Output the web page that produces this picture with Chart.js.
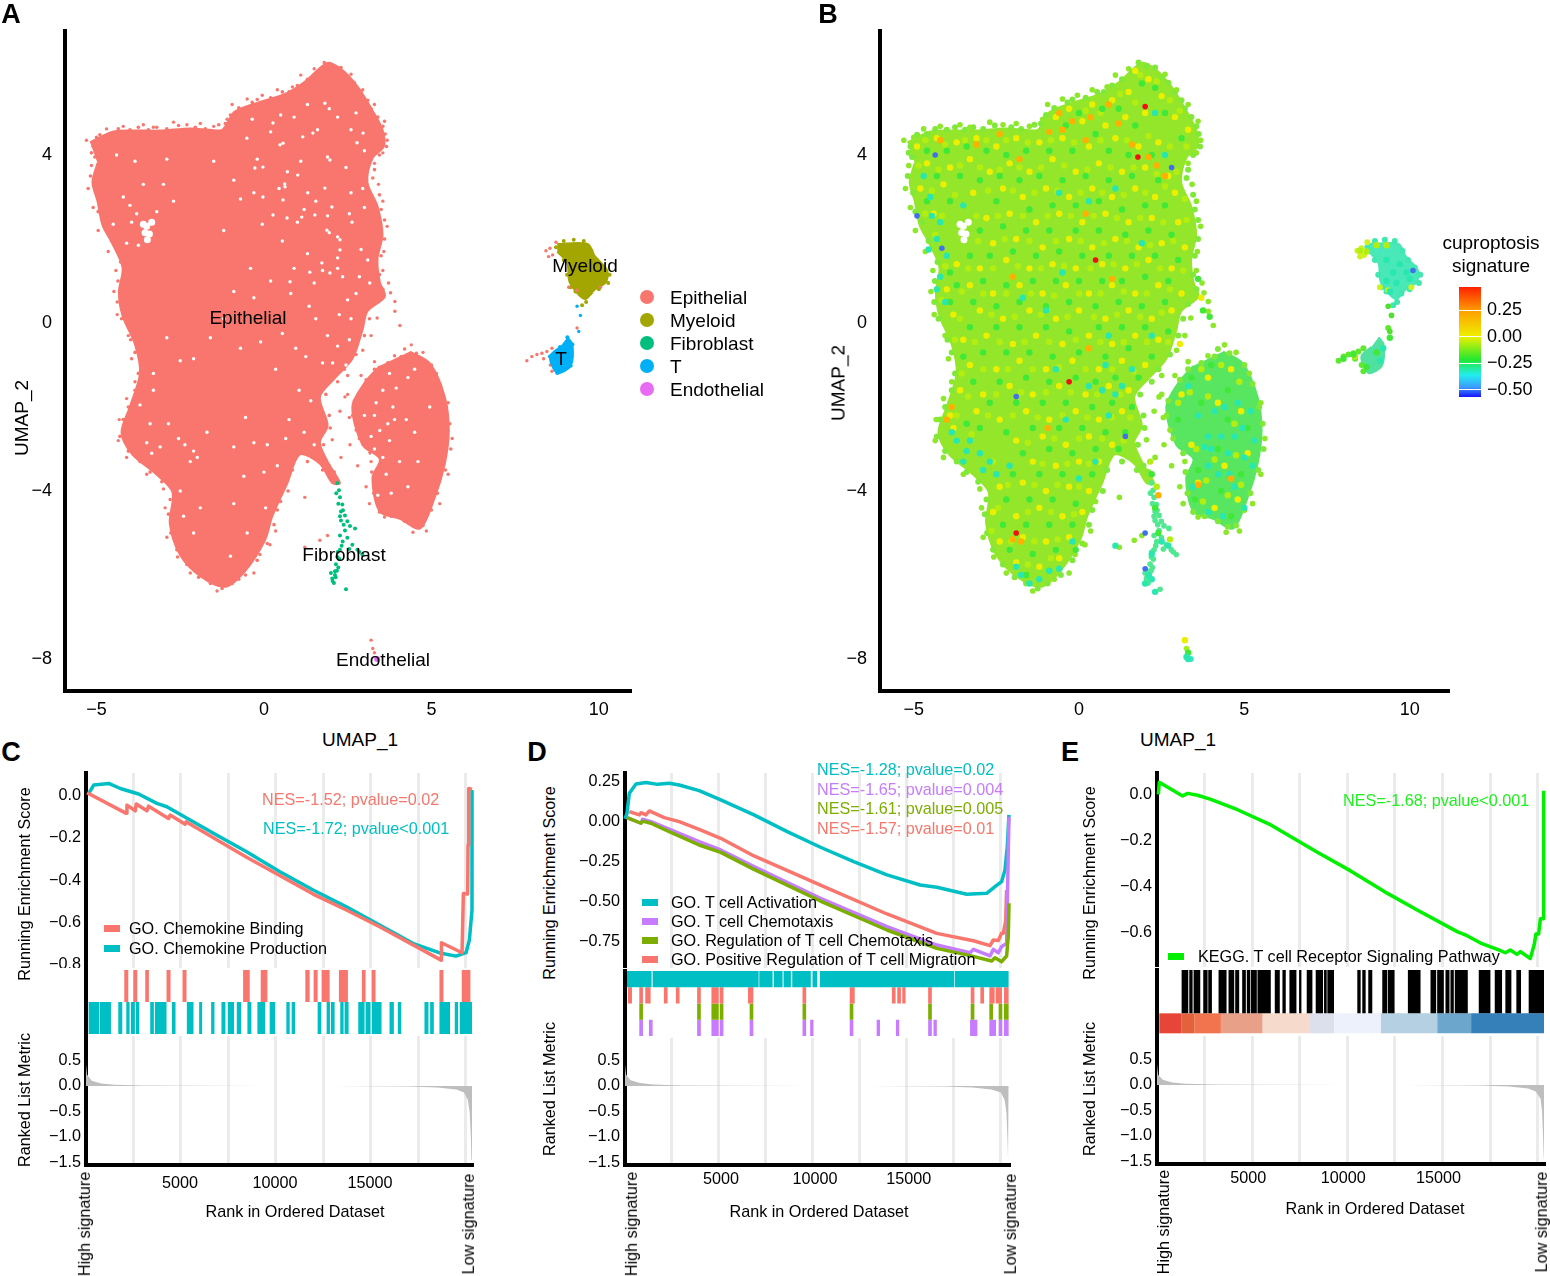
<!DOCTYPE html>
<html>
<head>
<meta charset="utf-8">
<title>UMAP and GSEA panels</title>
<script src="https://cdn.jsdelivr.net/npm/chart.js@4"></script>
<style>
  html, body { margin: 0; padding: 0; background: #fff; }
  #page { position: relative; width: 1550px; height: 1276px; overflow: hidden; font-family: "Liberation Sans", Arial, sans-serif; }
  #page canvas { position: absolute; }
  .txt { position: absolute; white-space: nowrap; line-height: 1; }
  .swatch { position: absolute; }
</style>
</head>
<body>
<div id="page"></div>
<script>
// ---- UMAP clusters (UMAP_1, UMAP_2)
const epiOutline = [[-5.19,4.30],[-4.52,4.55],[-3.85,4.58],[-3.10,4.58],[-2.21,4.63],[-1.61,4.60],[-1.24,4.60],[-.87,5.03],[-.12,5.26],[.63,5.45],[1.22,5.74],[1.90,6.19],[2.34,6.02],[2.79,5.63],[3.24,5.06],[3.54,4.60],[3.58,4.20],[3.24,3.92],[3.09,3.35],[3.39,2.78],[3.54,2.10],[3.39,1.53],[3.46,.97],[3.61,.63],[3.09,.28],[2.94,-.17],[2.64,-.85],[2.12,-1.31],[1.67,-1.76],[1.90,-2.44],[1.67,-2.84],[1.90,-3.30],[2.27,-3.81],[2.04,-3.81],[1.67,-3.35],[1.07,-3.13],[.70,-3.81],[.25,-4.60],[.03,-5.17],[-.57,-5.91],[-1.16,-6.28],[-1.91,-6.02],[-2.51,-5.51],[-2.81,-4.77],[-2.73,-4.03],[-3.25,-3.58],[-3.93,-3.13],[-4.25,-2.61],[-4.0,-1.99],[-3.70,-1.19],[-3.85,-.51],[-4.22,.17],[-4.33,.74],[-4.22,1.31],[-4.52,1.88],[-4.82,2.33],[-4.97,2.90],[-5.12,3.35],[-4.97,3.81]];
const lobeOutline = [[4.36,-.68],[4.96,-.97],[5.40,-1.76],[5.52,-2.56],[5.40,-3.35],[5.10,-4.15],[4.66,-4.89],[4.06,-4.66],[3.46,-4.49],[3.24,-3.69],[3.46,-3.24],[2.94,-2.90],[2.64,-1.99],[3.01,-1.42],[3.46,-1.02]];
const myeloidOutline = [[8.76,1.88],[9.66,1.88],[9.88,1.59],[10.25,1.25],[10.21,.97],[9.88,.80],[9.58,.57],[9.13,.97],[9.06,1.42],[8.76,1.70]];
const tOutline = [[9.06,-.34],[9.21,-.51],[9.16,-1.02],[8.76,-1.19],[8.54,-.80],[8.84,-.57]];
const epiScatter = [[-5.3,4.35],[-5.0,4.42],[-4.7,4.62],[-4.2,4.68],[-3.6,4.72],[-3.3,4.66],[-2.7,4.78],[-2.3,4.72],[-1.9,4.75],[-1.5,4.68],[-1.1,4.85],[-.95,5.2],[-.5,5.33],[-.05,5.42],[.4,5.55],[.85,5.62],[1.1,5.9],[1.5,6.05],[2.6,5.92],[2.95,5.55],[3.3,5.2],[3.6,4.8],[3.68,4.35],[3.55,4.05],[3.3,3.8],[3.42,3.3],[3.55,2.9],[3.68,2.3],[3.58,1.7],[3.55,1.25],[3.72,.95],[3.78,.72],[3.91,.51],[3.91,.28],[4.06,-.06],[3.38,.12],[3.2,-.3],[2.95,-.65],[2.5,-1.25],[2.42,-1.76],[2.27,-2.1],[2.55,-2.25],[2.04,-2.78],[2.57,-2.9],[2.3,-3.2],[2.8,-3.4],[1.22,-4.15],[1.67,-5.17],[1.22,-5.34],[1.9,-5.06],[.18,-5.28],[-.12,-5.51],[.35,-4.95],[.5,-4.25],[-.3,-5.95],[-.75,-6.1],[-1.4,-6.38],[-2.2,-5.95],[-2.58,-5.57],[-2.9,-5.1],[-2.95,-4.4],[-3.0,-3.95],[-3.5,-3.6],[-4.1,-3.2],[-4.35,-2.8],[-4.32,-2.3],[-4.1,-1.8],[-3.85,-1.4],[-3.95,-.85],[-4.05,-.3],[-4.38,.2],[-4.48,.75],[-4.42,1.25],[-4.65,1.7],[-4.95,2.2],[-5.1,2.75],[-5.25,3.2],[-5.15,3.75],[3.6,-4.62],[3.15,-4.3],[3.05,-3.9],[3.2,-3.3],[2.75,-2.55],[2.5,-1.7],[2.9,-1.25],[3.3,-.92],[3.9,-.78],[4.4,-.52],[4.75,-.7],[5.15,-1.2],[5.5,-1.9],[5.62,-2.75],[5.5,-3.6],[5.25,-4.3],[4.85,-4.95],[4.45,-4.98]];
const epiFringe = [[-5.1,4.2],[-4.9,4.48],[-4.6,4.5],[-4.35,4.62],[-4.0,4.6],[-3.75,4.66],[-3.45,4.6],[-3.2,4.66],[-2.9,4.62],[-2.55,4.7],[-2.05,4.66],[-1.75,4.62],[-1.35,4.72],[-1.15,4.75],[-1.0,4.95],[-.75,5.12],[-.35,5.25],[-.2,5.32],[.2,5.36],[.55,5.5],[.75,5.5],[1.0,5.65],[1.3,5.8],[1.6,5.98],[1.8,6.2],[2.05,6.12],[2.3,6.08],[2.5,5.85],[2.7,5.72],[2.9,5.5],[3.1,5.3],[3.2,5.1],[3.4,4.9],[3.55,4.68],[3.62,4.5],[3.66,4.2],[3.45,4.0],[3.3,3.65],[3.25,3.45],[3.45,3.05],[3.5,2.7],[3.6,2.45],[3.6,2.0],[3.5,1.6],[3.45,1.15],[3.55,.8],[3.3,.45],[3.15,.1],[3.0,-.3],[2.75,-.75],[2.4,-1.1],[2.2,-1.4],[1.85,-1.7],[1.95,-2.2],[1.98,-2.5],[1.78,-2.9],[1.95,-3.4],[2.1,-3.55],[1.75,-3.5],[1.3,-3.3],[.85,-3.5],[.72,-4.0],[.4,-4.45],[.3,-4.8],[.1,-5.25],[-.2,-5.65],[-.55,-6.0],[-.95,-6.2],[-1.25,-6.32],[-1.6,-6.2],[-1.95,-6.05],[-2.3,-5.75],[-2.6,-5.4],[-2.78,-5.0],[-2.85,-4.55],[-2.8,-4.2],[-3.05,-3.78],[-3.4,-3.55],[-3.7,-3.3],[-4.05,-3.05],[-4.3,-2.7],[-4.2,-2.3],[-4.05,-2.0],[-3.85,-1.6],[-3.75,-1.2],[-3.85,-.7],[-3.98,-.4],[-4.25,.1],[-4.38,.5],[-4.36,1.0],[-4.28,1.45],[-4.55,1.95],[-4.75,2.4],[-4.95,2.65],[-5.02,3.1],[-5.18,3.5],[-5.05,3.95],[-5.15,4.05],[4.2,-.62],[4.55,-.72],[5.0,-1.0],[5.25,-1.45],[5.45,-2.0],[5.55,-2.4],[5.58,-3.0],[5.42,-3.5],[5.18,-4.05],[5.0,-4.45],[4.75,-4.82],[4.5,-4.85],[4.2,-4.72],[3.8,-4.6],[3.45,-4.5],[3.28,-4.05],[3.22,-3.55],[3.15,-3.1],[2.85,-2.75],[2.65,-2.2],[2.7,-1.85],[3.05,-1.35],[3.3,-1.1],[3.7,-.95],[4.1,-.8]];
const epiHole = [[-3.5,2.3],[-3.42,2.12],[-3.55,2.15],[-3.35,2.4],[-3.48,1.98],[-3.6,2.35]];
const epiGaps = [[-3.8,2.6],[-3.2,2.65],[-3.95,2.4],[-3.75,1.85],[-2.36,-2.9],[-2.1,-3.05],[-1.99,-3.2],[-2.55,-2.75],[-2.2,-3.3],[3.46,-2.56],[3.3,-2.2],[3.7,-2.4],[3.09,-3.13],[3.3,-3.0],[3.55,-3.2],[3.2,-2.7],[3.85,-2.0],[1.82,5.23],[1.95,5.1],[1.6,4.6],[.9,4.9],[.2,4.55],[2.6,4.6],[3.0,4.1],[2.45,3.7],[1.9,3.95],[1.1,3.85],[.45,3.2],[1.55,2.9],[2.55,2.6],[2.9,1.75],[2.2,1.3],[1.3,1.65],[.55,1.95],[2.75,.7],[2.6,.1],[2.2,-.55],[1.75,-.95],[1.9,-.3],[1.35,.4],[.8,.7],[.95,-.6],[.35,-1.1],[-.7,-.6],[-1.2,.1],[-2.5,-.9],[-2.9,-.35],[-3.3,-1.6],[-3.4,-2.4],[-.55,-2.25],[-.3,-2.85],[.75,-2.3],[1.2,-2.6],[.4,-3.4],[-.6,-3.65],[-1.9,-4.4],[-2.4,-4.6],[-.5,-5.0],[-1.5,3.85],[-2.9,3.9],[-3.6,3.3],[-4.2,3.0],[-2.7,2.9],[-.9,3.4],[1.5,.95],[2.45,-1.0],[4.3,-1.3],[3.95,-1.55],[4.3,-3.9],[3.8,-4.05],[4.5,-2.6],[4.05,-3.3],[3.55,-1.6],[2.2,4.9],[2.75,5.0],[1.3,5.2],[.5,4.95],[-.35,4.85],[2.95,3.2],[2.6,3.1],[1.9,2.55],[1.2,2.7],[.7,3.6],[-.2,3.9],[-.3,3.1],[-.05,2.35],[.9,1.3],[1.75,1.25],[2.5,.55],[2.85,1.1],[3.1,1.5],[2.2,2.05],[3.0,2.75],[1.55,.1],[2.25,.2],[2.55,-.4],[2.05,-.95],[1.25,-.8],[.55,-.25],[-.1,-.45],[-1.6,-.35],[-2.1,-.85],[-.9,.75],[-.3,.6],[-3.5,-2.85],[-3.1,-2.95],[-3.35,-3.1],[-2.85,-2.4],[-3.7,-1.95],[-3.3,-1.2],[-1.7,-2.6],[-.9,-2.95],[.1,-2.9],[.65,-2.75],[1.4,-1.85],[1.5,-2.9],[1.05,-1.6],[0,-3.55],[-.9,-4.3],[.05,-4.4],[-2.5,-4.0],[-2.1,-5.0],[-1.0,-5.55],[3.75,-1.2],[4.5,-1.1],[3.35,-1.9],[3.0,-2.2],[3.9,-2.3],[4.25,-2.3],[3.75,-2.8],[3.65,-3.6],[3.4,-4.1],[4.6,-3.3],[4.95,-2.0],[-4.4,4.0],[-3.0,3.3],[-3.85,3.85],[-4.5,2.35],[-4.1,1.9],[-4.0,2.8],[.57,4.28],[-.03,3.71],[1.01,3.52],[.63,3.24],[-.03,3.0],[.57,2.93],[.27,2.57],[1.13,2.52],[1.52,2.57],[.69,2.5],[1.88,2.21],[2.27,1.74],[1.73,1.43],[1.37,1.21],[1.97,1.19],[.78,.98],[2.78,4.29],[2.96,4.52],[1.46,4.52],[.27,4.76],[1.16,4.43],[.48,4.24],[2.63,2.4],[2.27,1.98],[3.16,.95],[1.31,3.1],[-.51,4.4],[-.27,3.69],[1.82,3.21],[1.97,3.88],[2.03,2.76],[.62,3.31],[1.0,2.4],[1.95,2.15],[2.2,1.55],[2.35,1.1],[-.7,2.95],[-1.2,2.2],[-.4,1.3],[.2,1.0]];
const myeloidEpi = [[8.54,1.78],[8.42,1.72],[8.62,1.62],[8.5,1.58],[8.72,1.92],[10.05,.85],[9.1,.85],[9.35,.78]];
const myeloidFringe = [[8.72,1.8],[8.95,1.95],[9.25,1.98],[9.55,1.95],[9.78,1.72],[9.95,1.5],[10.15,1.32],[10.32,1.15],[10.28,.95],[10.0,.8],[9.75,.7],[9.62,.5],[9.5,.42],[9.3,.75],[9.15,.85],[9.05,1.15],[8.95,1.5]];
const tEpi = [[7.85,-.9],[8.0,-.8],[8.15,-.75],[8.3,-.72],[8.45,-.68],[8.6,-.6],[8.35,-.85],[8.55,-1.0],[8.6,-1.15],[9.35,-.12]];
const tStray = [[9.35,.4],[9.45,.18],[9.4,-.2]];
const fibroblast = [[2.19,-3.81],[2.24,-3.98],[2.16,-4.05],[2.27,-4.15],[2.34,-4.32],[2.22,-4.3],[2.3,-4.49],[2.42,-4.58],[2.27,-4.6],[2.36,-4.46],[2.49,-4.72],[2.57,-4.83],[2.42,-4.94],[2.72,-4.89],[2.27,-5.06],[2.49,-5.11],[2.35,-5.2],[2.64,-5.28],[2.79,-5.4],[2.55,-5.38],[2.27,-5.4],[2.19,-5.57],[2.25,-5.62],[2.15,-5.74],[2.22,-5.82],[2.12,-5.91],[2.04,-6.08],[2.09,-6.19],[2.14,-6.05],[2.0,-5.95],[2.45,-6.34],[2.94,-5.51],[2.85,-5.45],[2.05,-6.14],[2.12,-6.0],[2.18,-5.9],[2.3,-4.7],[2.38,-4.8],[2.32,-5.3],[2.2,-5.45]];
const endoEpi = [[3.2,-7.55],[3.25,-7.75],[3.3,-7.85]];
const endothelial = [[3.38,-8.0]];

// ---- panel B signature score, split by colour band
const specksYellow = [[1.7,6.0],[2.1,5.8],[.4,5.2],[-.3,5.1],[1.0,5.3],[1.5,5.5],[2.5,5.4],[-.7,4.9],[.1,4.8],[.8,4.7],[1.4,4.9],[2.0,5.0],[2.9,4.9],[3.3,4.6],[-4.9,4.2],[-4.3,4.4],[-3.7,4.3],[-3.1,4.4],[-2.5,4.2],[-1.9,4.4],[-1.2,4.3],[-.5,4.4],[.3,4.2],[1.1,4.4],[1.8,4.2],[2.4,4.3],[-4.6,3.8],[-3.9,3.7],[-3.3,3.9],[-2.7,3.6],[-2.1,3.8],[-1.5,3.6],[-.8,3.9],[-.1,3.6],[.6,3.8],[1.3,3.6],[2.0,3.7],[2.7,3.5],[-4.8,3.2],[-4.1,3.3],[-3.2,3.1],[-2.3,3.2],[-1.7,3.0],[-1.0,3.2],[-.3,3.0],[.4,3.2],[1.0,3.0],[1.7,3.2],[2.3,3.0],[2.9,3.1],[-4.4,2.6],[-2.8,2.5],[-2.1,2.6],[-1.3,2.4],[-.6,2.6],[.1,2.4],[.8,2.6],[1.5,2.4],[2.2,2.5],[3.0,2.4],[-2.6,1.9],[-1.9,2.0],[-1.1,1.8],[-.3,2.0],[.4,1.8],[1.1,2.0],[1.8,1.8],[2.5,1.9],[3.2,1.8],[-3.7,1.4],[-3.0,1.3],[-2.2,1.5],[-1.5,1.3],[-.8,1.4],[-.1,1.3],[.7,1.4],[1.4,1.3],[2.1,1.5],[2.8,1.3],[-4.0,.8],[-3.3,.9],[-2.6,.7],[-1.8,.9],[-1.1,.7],[-.4,.9],[.3,.7],[1.0,.9],[1.7,.7],[2.4,.9],[3.1,.7],[-3.8,.2],[-3.0,.3],[-2.3,.1],[-1.5,.3],[-.7,.1],[0,.3],[.8,.1],[1.5,.3],[2.2,.1],[2.8,.3],[-3.5,-.4],[-2.8,-.3],[-2.0,-.5],[-1.3,-.3],[-.5,-.5],[.3,-.3],[1.0,-.5],[1.7,-.3],[2.4,-.4],[-3.3,-1.0],[-2.5,-1.1],[-1.8,-.9],[-1.0,-1.1],[-.2,-.9],[.6,-1.1],[1.3,-.9],[2.0,-1.0],[-3.6,-1.6],[-2.9,-1.7],[-2.1,-1.5],[-1.4,-1.7],[-.6,-1.5],[.2,-1.7],[.9,-1.5],[1.5,-1.6],[-3.9,-2.2],[-3.1,-2.1],[-2.4,-2.3],[-1.6,-2.1],[-.9,-2.3],[-.1,-2.1],[.6,-2.3],[1.3,-2.1],[-3.8,-2.5],[-1.9,-2.8],[-1.1,-2.7],[-.4,-2.9],[.3,-2.7],[1.0,-2.9],[-1.4,-3.3],[-.7,-3.4],[0,-3.3],[.6,-3.3],[-2.4,-3.9],[-1.7,-3.8],[-1.0,-4.0],[-.3,-3.9],[.3,-4.0],[-2.6,-4.5],[-1.9,-4.6],[-1.2,-4.4],[-.5,-4.6],[.1,-4.5],[-2.4,-5.2],[-1.7,-5.1],[-1.0,-5.2],[-.3,-5.1],[-1.9,-5.7],[-1.2,-5.8],[-.6,-5.6],[3.1,-1.7],[3.9,-1.3],[4.6,-1.1],[3.4,-2.9],[4.2,-1.9],[4.9,-2.1],[3.6,-3.8],[4.4,-3.4],[4.8,-4.2],[4.1,-4.4],[3.7,.6],[3.05,-.5],[5.1,-3.1],[3.2,-7.55]];
const specksLime = [[1.85,5.9],[2.35,5.75],[.2,5.05],[1.25,5.45],[.65,5.0],[1.7,5.25],[2.75,5.3],[3.05,5.05],[-4.65,4.35],[-4.05,4.25],[-3.45,4.35],[-2.8,4.35],[-2.2,4.35],[-1.55,4.3],[-.85,4.35],[-.15,4.3],[.65,4.35],[1.45,4.35],[2.1,4.45],[2.75,4.2],[3.25,4.2],[-4.85,3.75],[-4.25,3.65],[-3.6,3.75],[-3.0,3.7],[-2.4,3.65],[-1.8,3.7],[-1.15,3.7],[-.45,3.75],[.25,3.65],[.95,3.7],[1.65,3.7],[2.35,3.55],[2.95,3.6],[-4.45,3.15],[-3.75,3.05],[-2.75,3.15],[-2.0,3.15],[-1.35,3.1],[-.65,3.15],[.05,3.1],[.7,3.1],[1.35,3.05],[2.0,3.1],[2.6,3.25],[3.2,2.95],[-4.65,2.6],[-4.15,2.55],[-3.1,2.55],[-2.45,2.55],[-1.7,2.55],[-.95,2.55],[-.25,2.55],[.45,2.55],[1.15,2.5],[1.85,2.5],[2.55,2.4],[3.25,2.45],[-4.35,2.1],[-3.05,1.95],[-2.25,2.0],[-1.5,1.95],[-.7,1.95],[.05,1.95],[.75,1.9],[1.45,1.95],[2.15,1.85],[2.85,1.95],[-4.05,1.35],[-3.35,1.3],[-2.6,1.3],[-1.85,1.35],[-1.15,1.3],[-.45,1.35],[.35,1.3],[1.05,1.4],[1.75,1.4],[2.45,1.3],[3.15,1.25],[-4.15,.55],[-3.55,.75],[-2.9,.7],[-2.2,.7],[-1.45,.7],[-.75,.65],[.0,.7],[.65,.7],[1.35,.75],[2.05,.7],[2.75,.8],[-3.6,.1],[-2.65,.2],[-1.95,.15],[-1.15,.2],[-.35,.15],[.45,.15],[1.15,.2],[1.85,.15],[2.5,.25],[-3.75,-.4],[-3.15,-.45],[-2.4,-.45],[-1.65,-.45],[-.9,-.45],[-.1,-.4],[.65,-.45],[1.35,-.45],[2.05,-.45],[2.7,-.45],[-3.55,-1.2],[-2.9,-1.1],[-2.15,-1.1],[-1.4,-1.1],[-.6,-1.05],[.2,-1.1],[1.0,-1.1],[1.65,-1.15],[-3.35,-1.75],[-2.5,-1.7],[-1.75,-1.65],[-1.0,-1.65],[-.25,-1.65],[.55,-1.7],[1.25,-1.7],[-3.7,-2.2],[-2.75,-2.2],[-2.0,-2.2],[-1.25,-2.25],[-.5,-2.2],[.25,-2.25],[1.0,-2.25],[1.55,-2.25],[-3.25,-2.65],[-1.55,-2.85],[-.75,-2.75],[0,-2.75],[.7,-2.75],[1.35,-2.8],[-2.6,-3.3],[-1.1,-3.35],[-.35,-3.35],[.3,-3.35],[-2.15,-3.85],[-1.35,-3.85],[-.65,-3.85],[.0,-3.9],[-2.45,-4.4],[-1.55,-4.5],[-.85,-4.5],[-.15,-4.55],[-2.65,-4.95],[-2.05,-5.2],[-1.35,-5.2],[-.65,-5.15],[-1.55,-5.75],[-.85,-5.6],[3.35,-1.65],[3.7,-1.1],[4.3,-1.0],[4.85,-1.4],[3.0,-1.9],[3.9,-1.75],[4.7,-2.4],[3.55,-3.0],[4.1,-3.25],[4.75,-3.15],[3.85,-3.75],[4.5,-4.1],[4.9,-3.85],[3.75,-4.25],[8.5,1.72],[8.7,1.7],[9.0,1.85],[9.3,1.85],[8.35,-.8],[2.15,-3.3],[2.35,-3.9],[2.75,-5.15]];
const specksGreen = [[1.9,5.7],[2.3,5.6],[.7,5.1],[.0,5.0],[1.2,5.1],[1.7,4.7],[2.6,5.0],[3.1,4.4],[-.4,4.7],[.5,4.5],[-4.6,4.1],[-4.0,4.1],[-3.4,4.2],[-2.8,4.1],[-2.2,4.0],[-1.6,4.1],[-.9,4.1],[-.2,4.1],[.9,4.1],[1.5,4.0],[2.2,4.0],[-4.3,3.5],[-3.6,3.5],[-3.0,3.4],[-2.4,3.5],[-1.8,3.4],[-1.2,3.5],[-.5,3.4],[.2,3.5],[.9,3.4],[1.6,3.5],[2.4,3.4],[-4.6,2.9],[-3.9,2.9],[-2.5,2.9],[-1.5,2.7],[-.8,2.8],[-.1,2.8],[.6,2.9],[1.3,2.7],[2.0,2.8],[2.6,2.8],[-3.0,2.2],[-2.3,2.3],[-1.6,2.2],[-.9,2.2],[-.1,2.2],[.6,2.2],[1.4,2.1],[2.1,2.2],[2.8,2.1],[-3.9,1.2],[-3.3,1.6],[-2.7,1.6],[-2.0,1.7],[-1.3,1.6],[-.6,1.7],[.1,1.6],[.9,1.6],[1.6,1.6],[2.3,1.6],[3.0,1.5],[-3.7,.9],[-2.9,1.0],[-2.2,.9],[-1.4,1.0],[-.7,1.0],[0,1.0],[.7,1.0],[1.3,1.0],[2.0,1.1],[2.7,1.0],[-3.9,.5],[-3.2,.5],[-2.5,.4],[-1.8,.5],[-1.0,.4],[-.3,.5],[.5,.4],[1.2,.5],[1.9,.4],[2.6,.5],[-3.3,-.1],[-2.5,-.1],[-1.8,-.1],[-1.0,-.1],[-.3,-.2],[.6,-.1],[1.3,-.1],[2.0,-.1],[2.7,-.2],[-3.5,-.8],[-2.9,-.7],[-2.2,-.7],[-1.5,-.7],[-.8,-.8],[0,-.7],[.8,-.8],[1.5,-.6],[2.2,-.8],[-3.2,-1.4],[-2.4,-1.4],[-1.6,-1.3],[-.9,-1.4],[-.1,-1.3],[.5,-1.4],[1.1,-1.3],[1.8,-1.3],[-3.4,-2.4],[-2.7,-1.9],[-1.9,-1.9],[-1.1,-1.9],[-.4,-1.9],[.4,-2.0],[1.0,-1.9],[1.6,-2.0],[-3.0,-2.5],[-2.2,-2.6],[-1.4,-2.5],[-.6,-2.5],[.1,-2.5],[.8,-2.6],[1.4,-2.6],[-1.7,-3.1],[-.9,-3.0],[-.2,-3.1],[.5,-3.0],[1.2,-3.0],[-2.0,-3.6],[-1.2,-3.6],[-.5,-3.6],[.4,-3.6],[-2.2,-4.2],[-1.5,-4.2],[-.8,-4.2],[-.1,-4.3],[-2.3,-4.8],[-1.6,-4.8],[-.9,-4.8],[-.2,-4.8],[-2.1,-5.4],[-1.4,-5.5],[-.7,-5.4],[-.1,-5.4],[-1.6,-6.0],[-.9,-5.9],[3.4,-1.3],[4.0,-1.0],[4.5,-1.6],[3.0,-2.3],[3.7,-1.9],[4.5,-2.3],[5.1,-2.5],[3.6,-3.5],[4.2,-3.0],[4.9,-3.6],[3.5,-4.2],[4.3,-4.0],[4.6,-4.6],[3.6,1.05],[3.75,.3],[3.95,.15],[2.2,-3.6],[2.3,-4.4],[2.4,-5.0],[9.4,-.35],[8.0,-.85],[8.3,-.75],[8.7,-1.05],[9.0,-.7],[3.3,-7.85]];
const specksAqua = [[2.3,5.0],[-4.7,3.5],[-4.5,3.0],[-4.2,2.4],[-4.3,2.0],[-4.0,1.6],[-4.2,1.1],[-4.05,.5],[-3.5,2.8],[-.6,3.1],[.3,2.9],[1.1,3.2],[2.6,4.0],[-.5,1.2],[1.9,1.9],[-1.7,.6],[.9,-.3],[-.7,-1.1],[.3,-1.5],[1.1,-1.7],[.8,-1.0],[1.6,-1.1],[1.3,-1.5],[-3.7,-2.8],[-3.3,-2.8],[-3.0,-3.1],[-2.7,-3.3],[-2.5,-3.6],[-3.5,-3.3],[-2.1,-3.4],[.0,-3.7],[.5,-3.3],[-.4,-2.3],[.9,-2.2],[-1.2,-6.1],[-.6,-5.85],[-1.5,-6.2],[-1.9,-5.8],[-.2,-5.2],[3.3,-1.5],[3.6,-2.2],[4.1,-2.1],[4.4,-2.0],[4.8,-1.9],[5.2,-2.1],[5.3,-2.8],[4.7,-2.7],[4.3,-2.7],[3.9,-2.7],[5.0,-3.2],[4.5,-3.1],[3.9,-3.4],[4.7,-3.9],[4.2,-3.6],[3.9,-4.5],[4.35,-4.6],[5.0,-4.4],[3.8,-2.95],[2.5,-5.2],[2.7,-5.3],[2.2,-5.5],[2.1,-6.0],[2.2,-6.1],[2.0,-6.2],[2.3,-6.4],[1.1,-5.3],[3.3,-8.0],[3.25,-7.95],[9.3,1.5],[9.5,1.2],[9.7,1.4],[9.9,1.2],[9.6,.95],[9.3,1.0],[10.0,1.05],[9.4,.75],[9.2,-.6],[9.1,-.9],[-4.45,2.55],[-4.55,1.75],[-4.3,.8],[-3.4,-3.05],[-3.85,-2.6],[-2.9,-3.5],[4.95,-2.5],[4.0,-3.0],[4.55,-3.6],[3.45,-3.9],[5.25,-3.4],[-.9,-5.9],[-1.75,-6.0],[-1.0,.3],[.7,-1.6],[2.2,-.3]];
const specksOrange = [[-.6,5.0],[-.2,4.8],[.35,4.9],[-.5,4.6],[.2,4.35],[1.6,4.25],[2.1,3.95],[2.35,3.75],[2.6,3.5],[-3.1,4.25],[-2.4,4.5],[-4.2,4.35],[-1.8,3.9],[-.9,4.55],[-2.0,1.1],[1.0,1.05],[.3,-.6],[-2.0,-5.15],[-1.75,-5.2],[3.6,-3.85],[4.6,-3.7],[-4.0,-2.3],[-3.85,-2.0],[2.4,-4.1],[.9,5.2],[1.2,4.75],[-.95,-2.5],[.2,2.6]];
const specksExtreme = [[1.78,3.95],[2.0,5.15],[-1.9,-5.0],[.5,1.5],[-.3,-1.4]];
const specksBlue = [[-4.35,4.0],[2.8,3.7],[-4.9,2.55],[-4.15,1.78],[2.0,-5.0],[2.0,-5.85],[10.1,1.25],[-1.9,-1.75],[1.4,-2.7]];

// ---- rank axis shared by the GSEA panels
const rankGrid = [0, 2500, 5000, 7500, 10000, 12500, 15000, 17500, 20000];
const rankLabels = [5000, 10000, 15000];

// ---- panel C, rank vs running score
const cBinding = [[56,.011],[2121,-.086],[2156,-.047],[2594,-.074],[2646,-.042],[3206,-.074],[3294,-.052],[4344,-.11],[4431,-.094],[5219,-.137],[5271,-.126],[8456,-.293],[11956,-.466],[13706,-.541],[15456,-.62],[18694,-.777],[18711,-.695],[19796,-.742],[19866,-.463],[20094,-.466],[20111,-.235],[20146,.031],[20320,.027]];
const cProduction = [[144,.008],[406,.047],[1194,.055],[1806,.031],[2769,.005],[3731,-.039],[4256,-.055],[6706,-.18],[8456,-.267],[10206,-.361],[11956,-.447],[13706,-.526],[15456,-.612],[17206,-.698],[18694,-.745],[19481,-.758],[20006,-.742],[20181,-.683],[20320,-.541],[20320,.024]];
const cBindingHits = [[2015,2225],[2488,2698],[3119,3311],[4240,4450],[5081,5291],[8270,8620],[9198,9548],[11546,11773],[11984,12194],[12404,12825],[13315,13788],[14524,14717],[15032,15242],[18606,18816],[19780,20236]];
const cProductionHits = [[140,701],[736,1314],[1699,1910],[2120,2295],[2365,2575],[2628,2803],[3381,3574],[3627,4240],[4520,4713],[5309,5659],[5957,6115],[6588,6763],[7131,7341],[7463,7796],[7937,8164],[8497,8707],[9023,9426],[9671,9952],[10547,10722],[10827,11003],[12194,12387],[12667,12842],[12895,13088],[13385,13561],[13613,13823],[14332,14665],[14717,14980],[15050,15558],[15978,16206],[16416,16592],[17818,18028],[18116,18309],[18606,19167],[19412,19587],[19675,20320]];
const cMetric = [[0,.42],[60,.22],[300,.1],[800,.05],[1500,.025],[3000,.008],[6000,.002],[9500,.001],[13000,-.001],[15000,-.004],[17000,-.012],[18500,-.03],[19500,-.07],[19900,-.13],[20100,-.27],[20200,-.52],[20260,-1.0],[20290,-1.45],[20320,-1.45],[20320,0]];

// ---- panel D
const dActivation = [[0,.02],[106,.054],[230,.179],[584,.2375],[1115,.246],[1734,.235],[2353,.242],[2884,.231],[3945,.196],[5095,.1375],[6864,.044],[8633,-.06],[10402,-.158],[12171,-.248],[13940,-.331],[15709,-.394],[16594,-.408],[18186,-.452],[19247,-.446],[19690,-.404],[20042,-.373],[20220,-.3],[20344,-.154],[20432,.044]];
const dChemotaxis = [[106,.027],[849,-.008],[938,.017],[1380,.002],[2441,-.05],[3945,-.123],[5095,-.175],[6864,-.279],[10402,-.477],[13940,-.654],[16593,-.769],[18362,-.817],[18539,-.796],[19424,-.8375],[19601,-.796],[19866,-.817],[20042,-.779],[20308,-.758],[20432,.033]];
const dRegulation = [[106,.027],[849,-.008],[938,.005],[1380,-.008],[2441,-.065],[3945,-.144],[5095,-.19],[6864,-.296],[10402,-.494],[13940,-.675],[16593,-.79],[18362,-.835],[19512,-.869],[19690,-.848],[20042,-.873],[20308,-.8375],[20396,-.717],[20435,-.508]];
const dMigration = [[230,.065],[761,.044],[849,.058],[1115,.044],[1292,.069],[2088,.027],[2884,.002],[3945,-.046],[5095,-.102],[6864,-.2125],[10402,-.394],[13940,-.575],[16593,-.696],[18539,-.742],[19424,-.773],[19601,-.7375],[19866,-.74],[20042,-.696],[20130,-.696],[20255,-.623],[20308,-.425]];
const dActivationHits = [[106,1416],[1469,7112],[7147,7855],[7925,8385],[8438,8828],[8899,9889],[9978,10225],[10367,17514],[17549,20415]];
const dMigrationHits = [[159,372],[761,956],[1079,1362],[2070,2265],[2707,2901],[3839,4034],[4600,4989],[5042,5237],[6546,6829],[9447,9641],[11959,12224],[14205,14400],[14489,14683],[14754,14931],[16134,16328],[18398,18593],[18911,19106],[19389,19672],[19725,20061],[20167,20415]];
const dRegulationHits = [[761,956],[3839,4034],[4600,4989],[5042,5237],[6634,6829],[9447,9641],[11959,12153],[16134,16328],[18398,18593],[19389,19583],[19884,20079],[20167,20415]];
const dChemotaxisHits = [[761,956],[1274,1469],[3839,4034],[4600,4989],[5042,5237],[6634,6829],[9447,9641],[9854,10030],[11959,12153],[13392,13569],[14418,14595],[16134,16328],[16417,16594],[18363,18752],[19389,19743],[19884,20079],[20167,20415]];
const dMetric = [[0,.42],[60,.22],[300,.11],[800,.06],[1500,.03],[3000,.01],[6000,.002],[10000,.001],[13000,-.001],[15000,-.004],[17000,-.012],[18500,-.03],[19500,-.07],[20000,-.13],[20200,-.27],[20300,-.52],[20350,-1.0],[20385,-1.45],[20420,-1.45],[20420,0]];

// ---- panel E
const eTcr = [[70,.003],[120,.055],[1346,-.004],[1608,.007],[2133,-.001],[2830,-.019],[4230,-.064],[5980,-.13],[8425,-.249],[10173,-.33],[11920,-.419],[13670,-.5],[15770,-.594],[16290,-.612],[17000,-.644],[17950,-.674],[18300,-.686],[18560,-.674],[18910,-.693],[19090,-.681],[19610,-.711],[19820,-.649],[19910,-.604],[20050,-.604],[20140,-.538],[20280,-.538],[20310,.018]];
const eHits = [[1293,1643],[1695,1870],[1923,2272],[2429,2657],[2692,2884],[3234,3653],[3758,4055],[4108,4317],[4475,4667],[4719,4894],[4929,5244],[5279,5978],[6188,6450],[6590,6764],[6957,7324],[7464,7586],[7866,8163],[8338,8722],[8775,8915],[8949,9299],[10523,10698],[10785,10960],[11099,11309],[11834,12096],[12131,12480],[13180,13844],[14368,14665],[14718,15068],[15155,15365],[15417,15592],[15644,16326],[16903,17515],[17743,18126],[18301,18616],[18878,19123],[19525,20346]];
const eHeatEdges = [122,1293,1957,3356,5541,7988,9299,11746,14718,16500,20346];
const eHeatColors = ['#E64538','#E4613E','#F2744F','#E8A088','#F6DACB','#DBE0EC','#EDF1FB','#B5D0E2','#6CA6CD','#3580B8'];
const eMetric = [[0,.4],[60,.2],[300,.1],[800,.05],[1500,.025],[3000,.008],[6000,.002],[10000,.001],[13000,-.001],[15000,-.004],[17000,-.012],[18500,-.03],[19500,-.07],[19900,-.13],[20150,-.27],[20230,-.52],[20280,-1.0],[20320,-1.45],[20346,-1.45],[20346,0]];

// colourbar
const barStops = [0, .09, .2, .34, .55, .78, 1];
const barColors = ['#1414FF', '#3C9CFF', '#22EEEE', '#22E830', '#EEF000', '#FFA000', '#FF2000'];

const PINK = '#F8766D', TEAL = '#00BFC4', PURPLE = '#C77CFF', OLIVE = '#7CAE00', LIME = '#00F000';
const page = document.getElementById('page');
Chart.defaults.font.family = '"Liberation Sans", Arial, sans-serif';
Chart.defaults.color = '#000';

const minus = v => String(v).replace('-', '\u2212');
const xy = pts => pts.map(([x, y]) => ({x, y}));
// horizontal runs drawn as thick line segments, one row of a rug plot
const runs = (hits, row) => hits.flatMap(([a, b]) => [{x: a, y: row}, {x: b, y: row}, {x: b, y: null}]);

function label(text, x, y, o = {}) {
  const d = document.createElement('div');
  d.className = 'txt';
  d.textContent = text;
  d.style.left = x + 'px';
  d.style.top = y + 'px';
  d.style.fontSize = (o.size || 16.2) + 'px';
  d.style.color = o.color || '#000';
  if (o.bold) d.style.fontWeight = 'bold';
  d.style.transform = o.rot ? 'translate(-50%,-50%) rotate(-90deg)' : (o.left ? 'translate(0,-50%)' : 'translate(-50%,-50%)');
  page.appendChild(d);
}
function swatch(x, y, w, h, color, round) {
  const d = document.createElement('div');
  d.className = 'swatch';
  d.style.cssText = `left:${x}px;top:${y}px;width:${w}px;height:${h}px;background:${color};` + (round ? 'border-radius:50%;' : '');
  page.appendChild(d);
}

// box is the plot area in page pixels, ml/mb the room kept for tick labels
function draw(box, ml, mb, datasets, scales) {
  const c = document.createElement('canvas');
  const pad = 6;
  c.width = box.r - box.l + ml + pad;
  c.height = box.b - box.t + mb + pad;
  c.style.left = (box.l - ml) + 'px';
  c.style.top = (box.t - pad) + 'px';
  c.style.width = c.width + 'px';
  c.style.height = c.height + 'px';
  page.appendChild(c);
  scales.x.afterFit = s => { s.height = mb; s.paddingLeft = s.paddingRight = 0; };
  scales.y.afterFit = s => { s.width = ml; s.paddingTop = s.paddingBottom = 0; };
  return new Chart(c, {
    type: 'line',
    data: {datasets},
    options: {
      responsive: false, animation: false, devicePixelRatio: 1,
      layout: {padding: {top: pad, right: pad, left: 0, bottom: 0}},
      plugins: {legend: {display: false}, tooltip: {enabled: false}},
      scales
    }
  });
}
const dots = (pts, color, r) => ({data: xy(pts), showLine: false, pointRadius: r, pointBackgroundColor: color, pointBorderWidth: 0, clip: false});
const blob = (pts, color) => ({data: xy(pts), fill: 'shape', backgroundColor: color, borderColor: color, borderWidth: 2, pointRadius: 0, tension: .3});
const curve = (pts, color, w = 3.5) => ({data: xy(pts), borderColor: color, borderWidth: w, pointRadius: 0, borderJoinStyle: 'round', clip: false});
const rug = (hits, row, color, w) => ({data: runs(hits, row), borderColor: color, borderWidth: w, pointRadius: 0, borderCapStyle: 'butt'});

function umapScales(xMin, xMax) {
  return {
    x: {type: 'linear', min: xMin, max: xMax, border: {color: '#000', width: 4}, grid: {display: false, drawTicks: false},
        ticks: {stepSize: 5, includeBounds: false, autoSkip: false, maxRotation: 0, padding: 8, font: {size: 18}, callback: minus}},
    y: {type: 'linear', min: -8.76, max: 6.95, border: {color: '#000', width: 4}, grid: {display: false, drawTicks: false},
        ticks: {stepSize: 4, includeBounds: false, padding: 13, font: {size: 18}, callback: minus}}
  };
}

// ---- A
draw({l: 65, r: 631, t: 31, b: 691}, 65, 34, [
  dots(endothelial, '#E76BF3', 3), dots(tStray, '#00B0F6', 1.7), dots(tOutline, '#00B0F6', 2),
  dots(fibroblast, '#00BF7D', 2), blob(tOutline, '#00B0F6'), dots(myeloidEpi, PINK, 1.7), dots(tEpi, PINK, 1.7), dots(endoEpi, PINK, 1.7),
  dots(myeloidFringe, '#A3A500', 2), blob(myeloidOutline, '#A3A500'), dots(epiHole, '#fff', 3.5), dots(epiGaps, '#fff', 1.7), dots(epiScatter, PINK, 1.7), dots(epiFringe, PINK, 1.8), blob(epiOutline, PINK), blob(lobeOutline, PINK)
], umapScales(-5.94, 10.96));

// ---- B
draw({l: 880, r: 1449, t: 31, b: 691}, 65, 34, [
  dots(specksExtreme, '#F01010', 2.8), dots(specksBlue, '#4070F0', 2.8),
  dots(specksOrange, '#FFB000', 3.2), dots(specksAqua, '#28E8B0', 3.2), dots(specksGreen, '#40E838', 3.2), dots(specksYellow, '#ECF000', 3.2), dots(specksLime, '#B4EE10', 3.2),
  dots(tStray, '#50E030', 2.8), dots(endoEpi, '#A0F020', 2.8), dots(endothelial, '#30E8D0', 3),
  dots(myeloidEpi, '#D0F020', 3), dots(tEpi, '#60E830', 3), dots(fibroblast, '#50E890', 2.8), dots(myeloidFringe, '#40E8B0', 3),
  blob(tOutline, '#50E0A0'), blob(myeloidOutline, '#48E8B8'),
  dots(epiHole, '#fff', 3.5), dots(epiScatter, '#8CE828', 2.8), dots(epiFringe, '#80E838', 3), blob(epiOutline, '#94E62A'), blob(lobeOutline, '#58E660')
], umapScales(-6.02, 11.19));

// ---- colourbar
(function () {
  const c = document.createElement('canvas');
  c.width = 90; c.height = 122;
  c.style.left = '1459px'; c.style.top = '281px';
  page.appendChild(c);
  new Chart(c, {
    type: 'bar',
    data: {labels: ['signature'], datasets: [{
      data: [[-.566, .467]], barPercentage: 1, categoryPercentage: 1,
      backgroundColor: ctx => {
        const a = ctx.chart.chartArea;
        if (!a) return '#0f0';
        const g = ctx.chart.ctx.createLinearGradient(0, a.bottom, 0, a.top);
        barStops.forEach((s, i) => g.addColorStop(s, barColors[i]));
        return g;
      }
    }]},
    options: {
      responsive: false, animation: false, devicePixelRatio: 1,
      layout: {padding: {top: 6, bottom: 6}},
      plugins: {legend: {display: false}, tooltip: {enabled: false}},
      scales: {
        x: {display: false},
        y: {position: 'right', min: -.566, max: .467, afterFit: s => { s.width = 68; s.paddingTop = s.paddingBottom = 0; },
            border: {display: false}, grid: {z: 1, color: '#fff', lineWidth: 1, drawTicks: false, borderDash: [4, 14, 4]},
            ticks: {stepSize: .25, includeBounds: false, padding: 6, font: {size: 18},
                    callback: v => minus(v.toFixed(2))}}
      }
    }
  });
})();

// ---- GSEA panels: running score on top, rug in the middle, ranked metric below
function gsea(p) {
  const setRank = s => { s.ticks = rankGrid.map(value => ({value})); };
  draw({l: p.l, r: p.r, t: 773, b: p.topEnd}, 60, 0, p.lines, {
    x: {type: 'linear', min: 0, max: p.xMax, border: {display: false}, grid: {color: '#EBEBEB', lineWidth: 3, drawTicks: false},
        afterBuildTicks: setRank, ticks: {display: false}},
    y: {type: 'linear', min: p.yMin, max: p.yMax, border: {color: '#000', width: 4}, grid: {display: false, drawTicks: false},
        ticks: {stepSize: p.yStep, includeBounds: false, padding: 5, font: {size: 16.2}, callback: v => minus(v.toFixed(p.yDigits))}}
  });
  draw({l: p.l, r: p.r, t: p.rugTop, b: p.rugEnd}, 60, 0, p.rugs, {
    x: {type: 'linear', min: 0, max: p.xMax, display: true, border: {display: false}, grid: {display: false, drawTicks: false}, ticks: {display: false}},
    y: {type: 'linear', min: 0, max: p.rugRows, border: {color: '#000', width: 4}, grid: {display: false, drawTicks: false}, ticks: {display: false}}
  });
  const metric = {data: xy(p.metric), borderWidth: 0, backgroundColor: '#BEBEBE', fill: 'origin', pointRadius: 0};
  const t = p.rugEnd + 2;
  draw({l: p.l, r: p.r, t, b: p.axisY}, 60, 30, [metric], {
    x: {type: 'linear', min: 0, max: p.xMax, border: {color: '#000', width: 4}, grid: {color: '#EBEBEB', lineWidth: 3, drawTicks: false},
        afterBuildTicks: setRank,
        ticks: {autoSkip: false, maxRotation: 0, padding: p.xPad, labelOffset: p.shift, font: {size: 16.2},
                callback: v => (rankLabels.includes(v) ? String(v) : '')}},
    y: {type: 'linear', min: -1.55, max: (p.axisY - t) / 51 - 1.55, border: {color: '#000', width: 4}, grid: {display: false, drawTicks: false},
        ticks: {stepSize: .5, includeBounds: false, padding: 5, font: {size: 16.2}, callback: v => minus(v.toFixed(1))}}
  });
}

gsea({l: 86, r: 472, topEnd: 968, rugTop: 970, rugEnd: 1034, axisY: 1165, xMax: 20320, xPad: 9, shift: -1,
  yMin: -.814, yMax: .104, yStep: .2, yDigits: 1, metric: cMetric,
  lines: [curve(cBinding, PINK), curve(cProduction, TEAL)],
  rugRows: 2, rugs: [rug(cBindingHits, 1.5, PINK, 32), rug(cProductionHits, .5, TEAL, 32)]});

gsea({l: 625, r: 1009, topEnd: 968, rugTop: 971, rugEnd: 1036, axisY: 1165, xMax: 20435, xPad: 5, shift: 2,
  yMin: -.9125, yMax: .306, yStep: .25, yDigits: 2, metric: dMetric,
  lines: [curve(dRegulation, OLIVE), curve(dChemotaxis, PURPLE), curve(dMigration, PINK), curve(dActivation, TEAL)],
  rugRows: 4, rugs: [rug(dActivationHits, 3.5, TEAL, 16.25), rug(dMigrationHits, 2.5, PINK, 16.25), rug(dRegulationHits, 1.5, OLIVE, 16.25), rug(dChemotaxisHits, .5, PURPLE, 16.25)]});

gsea({l: 1157, r: 1544, topEnd: 967, rugTop: 970, rugEnd: 1034, axisY: 1164, xMax: 20330, xPad: 5, shift: -4,
  yMin: -.748, yMax: .0957, yStep: .2, yDigits: 1, metric: eMetric,
  lines: [curve(eTcr, LIME)],
  rugRows: 3, rugs: [rug(eHits, 2, '#000', 44)].concat(eHeatColors.map((col, i) => rug([[eHeatEdges[i], eHeatEdges[i + 1]]], .5, col, 20)))});

// ---- text
[['A', 11, 14], ['B', 828, 14], ['C', 11, 752], ['D', 537, 752], ['E', 1070, 752]].forEach(t => label(t[0], t[1], t[2], {size: 27, bold: true}));
label('UMAP_1', 360, 739, {size: 19});
label('UMAP_1', 1178, 739, {size: 19});
label('UMAP_2', 21, 418, {size: 19, rot: true});
label('UMAP_2', 838, 383, {size: 19, rot: true});
[['Epithelial', 248, 317], ['Myeloid', 585, 265], ['Fibroblast', 344, 554], ['T', 561, 358], ['Endothelial', 383, 659]].forEach(t => label(t[0], t[1], t[2], {size: 19}));
[['Epithelial', '#F8766D', 297], ['Myeloid', '#A3A500', 320], ['Fibroblast', '#00BF7D', 343], ['T', '#00B0F6', 366], ['Endothelial', '#E76BF3', 389]].forEach(t => {
  swatch(640, t[2] - 7, 14, 14, t[1], true);
  label(t[0], 670, t[2], {size: 19, left: true});
});
label('cuproptosis', 1491, 242, {size: 19});
label('signature', 1491, 265, {size: 19});

[[24, 884, 24, 1100, 295, 1211, 84, 468, 1224], [549, 883, 549, 1089, 819, 1211, 631, 1010, 1224], [1089, 883, 1089, 1089, 1375, 1208, 1163, 1541, 1222]].forEach(t => {
  label('Running Enrichment Score', t[0], t[1], {rot: true});
  label('Ranked List Metric', t[2], t[3], {rot: true});
  label('Rank in Ordered Dataset', t[4], t[5]);
  label('High signature', t[6], t[8], {rot: true});
  label('Low signature', t[7], t[8], {rot: true});
});
[['NES=-1.52; pvalue=0.02', 262, 799, PINK], ['NES=-1.72; pvalue<0.001', 263, 828, TEAL],
 ['NES=-1.28; pvalue=0.02', 817, 769, TEAL], ['NES=-1.65; pvalue=0.004', 817, 789, PURPLE], ['NES=-1.61; pvalue=0.005', 817, 808, OLIVE], ['NES=-1.57; pvalue=0.01', 817, 828, PINK],
 ['NES=-1.68; pvalue<0.001', 1343, 800, '#1EF01E']].forEach(t => label(t[0], t[1], t[2], {left: true, color: t[3]}));
[['GO. Chemokine Binding', 104, 129, 928, PINK], ['GO. Chemokine Production', 104, 129, 948, TEAL],
 ['GO. T cell Activation', 642, 671, 902, TEAL], ['GO. T cell Chemotaxis', 642, 671, 921, PURPLE], ['GO. Regulation of T cell Chemotaxis', 642, 671, 940, OLIVE], ['GO. Positive Regulation of T cell Migration', 642, 671, 959, PINK],
 ['KEGG. T cell Receptor Signaling Pathway', 1168, 1198, 956, LIME]].forEach(t => {
  swatch(t[1], t[3] - 3.5, 16, 7, t[4]);
  label(t[0], t[2], t[3], {left: true});
});
</script>
</body>
</html>
